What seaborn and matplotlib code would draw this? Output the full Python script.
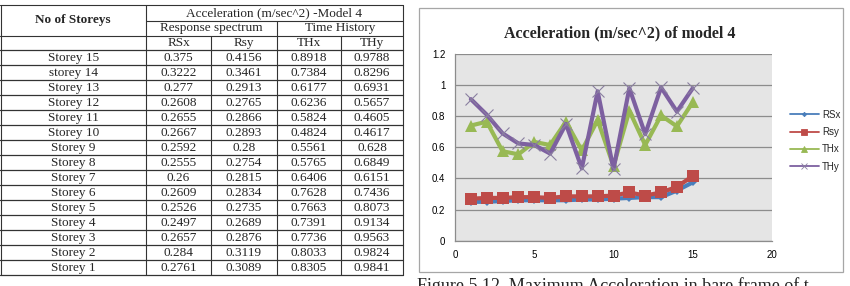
import numpy as np
import pandas as pd
import matplotlib
matplotlib.use("Agg")
import matplotlib.pyplot as plt
from matplotlib.lines import Line2D
from matplotlib.patches import Rectangle
import seaborn as sns

# table values (Storey 15 -> Storey 1)
storey_labels = ["Storey 15", "storey 14", "Storey 13", "Storey 12", "Storey 11",
                 "Storey 10", "Storey 9", "Storey 8", "Storey 7", "Storey 6",
                 "Storey 5", "Storey 4", "Storey 3", "Storey 2", "Storey 1"]
tab_rsx = ["0.375", "0.3222", "0.277", "0.2608", "0.2655", "0.2667", "0.2592", "0.2555",
           "0.26", "0.2609", "0.2526", "0.2497", "0.2657", "0.284", "0.2761"]
tab_rsy = ["0.4156", "0.3461", "0.2913", "0.2765", "0.2866", "0.2893", "0.28", "0.2754",
           "0.2815", "0.2834", "0.2735", "0.2689", "0.2876", "0.3119", "0.3089"]
tab_thx = ["0.8918", "0.7384", "0.6177", "0.6236", "0.5824", "0.4824", "0.5561", "0.5765",
           "0.6406", "0.7628", "0.7663", "0.7391", "0.7736", "0.8033", "0.8305"]
tab_thy = ["0.9788", "0.8296", "0.6931", "0.5657", "0.4605", "0.4617", "0.628", "0.6849",
           "0.6151", "0.7436", "0.8073", "0.9134", "0.9563", "0.9824", "0.9841"]

# chart values as drawn
chart_x = list(range(1, 16))
rsx = [0.25, 0.25, 0.255, 0.26, 0.26, 0.26, 0.26, 0.265, 0.265, 0.27, 0.275, 0.28, 0.28, 0.322, 0.375]
rsy = [0.27, 0.275, 0.275, 0.28, 0.28, 0.275, 0.285, 0.285, 0.285, 0.29, 0.31, 0.29, 0.31, 0.346, 0.416]
thx = [0.74, 0.765, 0.575, 0.555, 0.635, 0.615, 0.765, 0.58, 0.775, 0.48, 0.835, 0.615, 0.805, 0.735, 0.89]
thy = [0.91, 0.81, 0.69, 0.625, 0.615, 0.56, 0.75, 0.465, 0.96, 0.46, 0.98, 0.685, 0.985, 0.83, 0.98]

sns.set_style("white")
serif = ["Liberation Serif", "DejaVu Serif"]
sans = ["Liberation Sans", "DejaVu Sans"]

fig = plt.figure(figsize=(8.5, 2.86), dpi=100)
bg = fig.add_axes([0, 0, 1, 1])
bg.set_xlim(0, 850)
bg.set_ylim(286, 0)
bg.axis("off")

# ---- table ----
lc = "#333333"
col_edges = [0.5, 146, 211, 277, 341, 403]
top = 5
row_h = 15
first_data = 50
bottom = first_data + row_h * len(storey_labels)

for xe in [0.5, 146, 403]:
    bg.plot([xe, xe], [top, bottom], color=lc, lw=0.8)
bg.plot([277, 277], [20.5, bottom], color=lc, lw=0.8)
for xe in [211, 341]:
    bg.plot([xe, xe], [35.5, bottom], color=lc, lw=0.8)
bg.plot([0, 403], [top, top], color=lc, lw=0.8)
bg.plot([146, 403], [20.5, 20.5], color=lc, lw=0.8)
bg.plot([0, 403], [35.5, 35.5], color=lc, lw=0.8)
for i in range(len(storey_labels) + 1):
    y = first_data + i * row_h
    bg.plot([0, 403], [y, y], color=lc, lw=0.9)

fs = 9.5
bg.text(73, 20.5, "No of Storeys", ha="center", va="center", fontsize=fs,
        fontweight="bold", family=serif)
bg.text(274.5, 13, "Acceleration (m/sec^2) -Model 4", ha="center", va="center",
        fontsize=fs, family=serif)
bg.text(211.5, 28, "Response spectrum", ha="center", va="center", fontsize=fs, family=serif)
bg.text(340, 28, "Time History", ha="center", va="center", fontsize=fs, family=serif)
centers = [(col_edges[i] + col_edges[i + 1]) / 2 for i in range(5)]
for c, h in zip(centers[1:], ["RSx", "Rsy", "THx", "THy"]):
    bg.text(c, 43, h, ha="center", va="center", fontsize=fs, family=serif)

for i, row in enumerate(zip(storey_labels, tab_rsx, tab_rsy, tab_thx, tab_thy)):
    y = first_data + i * row_h + row_h / 2 + 0.5
    for c, val in zip(centers, row):
        bg.text(c, y, val, ha="center", va="center", fontsize=fs, family=serif)

# ---- chart frame ----
bg.add_patch(Rectangle((419, 8), 424, 264, facecolor="white", edgecolor="#a6a6a6", lw=0.9))
bg.text(620, 33, "Acceleration (m/sec^2) of model 4", ha="center", va="center",
        fontsize=11.5, fontweight="bold", family=serif)
# caption runs off the bottom edge, as in the source page
bg.text(417, 277, "Figure 5.12. Maximum Acceleration in bare frame of t", ha="left",
        va="top", fontsize=13, family=serif)

ax = fig.add_axes([455 / 850, (286 - 240.7) / 286, 317 / 850, 186.7 / 286])
ax.set_facecolor("#e5e5e5")

series = [
    ("RSx", rsx, "#4a7ebb", "D", 4),
    ("Rsy", rsy, "#be4b48", "s", 8),
    ("THx", thx, "#98b954", "^", 8),
    ("THy", thy, "#7d60a0", "x", 8),
]
handles = []
for name, vals, col, mk, ms in series:
    df = pd.DataFrame({"x": chart_x, "y": vals})
    mec = "#8a7fa0" if mk == "x" else col
    sns.lineplot(data=df, x="x", y="y", ax=ax, color=col, lw=3, marker=mk,
                 markersize=ms, markeredgecolor=mec, markeredgewidth=0.8 if mk == "x" else 0)
    handles.append(Line2D([0], [0], color=col, lw=1.3, marker=mk, markersize=ms * 0.55,
                          markeredgecolor=mec, markeredgewidth=0.6, label=name))

ax.set_xlim(0, 20)
ax.set_ylim(0, 1.2)
ax.set_xticks([0, 5, 10, 15, 20])
ax.set_yticks([0, 0.2, 0.4, 0.6, 0.8, 1.0, 1.2])
ax.set_yticklabels(["0", "0.2", "0.4", "0.6", "0.8", "1", "1.2"])
ax.yaxis.grid(True, color="#8c8c8c", lw=0.9)
ax.set_axisbelow(True)
ax.set_xlabel("")
ax.set_ylabel("")
for s in ["top", "right"]:
    ax.spines[s].set_visible(False)
for s in ["left", "bottom"]:
    ax.spines[s].set_color("#8c8c8c")
    ax.spines[s].set_linewidth(0.9)
ax.tick_params(axis="both", labelsize=7, colors="#8c8c8c", labelcolor="black",
               length=3, width=0.8, direction="out", pad=4)
for lab in ax.get_xticklabels() + ax.get_yticklabels():
    lab.set_family(sans)

leg = ax.legend(handles=handles, loc="upper left", bbox_to_anchor=(781 / 850, 1 - 101 / 286),
                bbox_transform=fig.transFigure, frameon=False,
                handlelength=3.0, handletextpad=0.3, labelspacing=0.75,
                prop={"family": sans, "size": 7})

fig.savefig("out.png", dpi=100)
